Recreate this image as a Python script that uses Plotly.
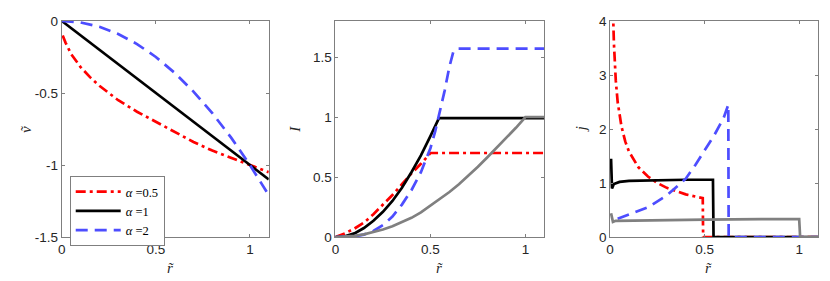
import plotly.graph_objects as go

# ---- panel 1: v~ vs r~
r_v_half = [0.005, 0.02, 0.05, 0.1, 0.15, 0.2, 0.25, 0.3, 0.4, 0.5, 0.6, 0.7, 0.8, 0.9, 1.0, 1.1]
v_half = [-0.1, -0.15, -0.23, -0.32, -0.39, -0.45, -0.5, -0.55, -0.63, -0.7, -0.77, -0.84, -0.9, -0.95, -1.0, -1.05]
r_v_one = [0, 0.55, 1.1]
v_one = [0, -0.55, -1.1]
r_v_two = [0, 0.1, 0.2, 0.3, 0.4, 0.5, 0.6, 0.7, 0.8, 0.9, 1.0, 1.1]
v_two = [0, -0.01, -0.04, -0.09, -0.16, -0.25, -0.36, -0.49, -0.64, -0.81, -1.0, -1.21]

# ---- panel 2: I vs r~
r_I_half = [0, 0.05, 0.1, 0.15, 0.2, 0.25, 0.3, 0.35, 0.4, 0.45, 0.5, 1.1]
I_half = [0, 0.03, 0.07, 0.12, 0.19, 0.27, 0.35, 0.44, 0.53, 0.61, 0.7, 0.7]
r_I_one = [0, 0.05, 0.1, 0.15, 0.2, 0.25, 0.3, 0.35, 0.4, 0.45, 0.5, 0.545, 1.1]
I_one = [0, 0.005, 0.03, 0.075, 0.135, 0.21, 0.3, 0.41, 0.54, 0.68, 0.84, 0.99, 0.99]
r_I_two = [0, 0.1, 0.15, 0.2, 0.25, 0.3, 0.35, 0.4, 0.45, 0.5, 0.525, 0.55, 0.575, 0.6, 0.62, 0.64, 1.1]
I_two = [0, 0.005, 0.02, 0.05, 0.1, 0.17, 0.27, 0.39, 0.54, 0.74, 0.88, 1.04, 1.22, 1.42, 1.54, 1.57, 1.57]
r_I_ref = [0, 0.05, 0.1, 0.15, 0.2, 0.25, 0.3, 0.35, 0.4, 0.45, 0.5, 0.55, 0.6, 0.65, 0.7,
           0.75, 0.8, 0.85, 0.9, 0.95, 1.0, 1.1]
I_ref = [0, 0.003, 0.01, 0.022, 0.04, 0.063, 0.09, 0.123, 0.16, 0.205, 0.26, 0.315, 0.375, 0.44, 0.51,
         0.585, 0.665, 0.745, 0.825, 0.91, 1.0, 1.0]

# ---- panel 3: j vs r~
r_j_half = [0.012, 0.02, 0.03, 0.04, 0.06, 0.08, 0.1, 0.15, 0.2, 0.25, 0.3, 0.35, 0.4, 0.45, 0.49, 0.492, 1.1]
j_half = [4.6, 3.6, 2.9, 2.5, 2.05, 1.77, 1.58, 1.29, 1.12, 1.0, 0.91, 0.85, 0.79, 0.75, 0.72, 0, 0]
r_j_one = [0.005, 0.01, 0.02, 0.05, 0.1, 0.2, 0.3, 0.4, 0.5, 0.544, 0.547, 1.1]
j_one = [1.45, 0.9, 0.98, 1.02, 1.04, 1.05, 1.055, 1.06, 1.06, 1.06, 0, 0]
r_j_two = [0.04, 0.1, 0.2, 0.3, 0.4, 0.45, 0.5, 0.55, 0.6, 0.625, 0.627, 1.1]
j_two = [0.34, 0.42, 0.55, 0.77, 1.08, 1.33, 1.6, 1.88, 2.2, 2.45, 0, 0]
r_j_ref = [0.005, 0.015, 0.03, 0.2, 0.5, 0.8, 1.0, 1.005, 1.1]
j_ref = [0.44, 0.28, 0.3, 0.31, 0.32, 0.33, 0.33, 0, 0]

names = ['<i>α</i> =0.5', '<i>α</i> =1', '<i>α</i> =2']

RED = '#ff0000'
BLUE = '#4d4dff'
GREY = '#808080'
LW = 2.7
red_line = dict(color=RED, width=LW, dash='10px,4px,3px,4px')
black_line = dict(color='black', width=LW)
blue_line = dict(color=BLUE, width=LW, dash='12px,7px')
grey_line = dict(color=GREY, width=LW)

fig = go.Figure()

# panel 1
fig.add_trace(go.Scatter(x=r_v_half, y=v_half, mode='lines', name=names[0], line=red_line, xaxis='x', yaxis='y'))
fig.add_trace(go.Scatter(x=r_v_one, y=v_one, mode='lines', name=names[1], line=black_line, xaxis='x', yaxis='y'))
fig.add_trace(go.Scatter(x=r_v_two, y=v_two, mode='lines', name=names[2], line=blue_line, xaxis='x', yaxis='y'))

# panel 2
fig.add_trace(go.Scatter(x=r_I_half, y=I_half, mode='lines', line=red_line, showlegend=False, xaxis='x2', yaxis='y2'))
fig.add_trace(go.Scatter(x=r_I_one, y=I_one, mode='lines', line=black_line, showlegend=False, xaxis='x2', yaxis='y2'))
fig.add_trace(go.Scatter(x=r_I_two, y=I_two, mode='lines', line=blue_line, showlegend=False, xaxis='x2', yaxis='y2'))
fig.add_trace(go.Scatter(x=r_I_ref, y=I_ref, mode='lines', line=grey_line, showlegend=False, xaxis='x2', yaxis='y2'))

# panel 3
fig.add_trace(go.Scatter(x=r_j_half, y=j_half, mode='lines', line=red_line, showlegend=False, xaxis='x3', yaxis='y3'))
fig.add_trace(go.Scatter(x=r_j_one, y=j_one, mode='lines', line=black_line, showlegend=False, xaxis='x3', yaxis='y3'))
fig.add_trace(go.Scatter(x=r_j_two, y=j_two, mode='lines', line=blue_line, showlegend=False, xaxis='x3', yaxis='y3'))
fig.add_trace(go.Scatter(x=r_j_ref, y=j_ref, mode='lines', line=grey_line, showlegend=False, xaxis='x3', yaxis='y3'))

# the page body has an 8px margin, so figure coords = screen coords - 8
W, H = 830, 281
OFF = 8
tick_font = dict(family='Liberation Sans, Arial, sans-serif', size=13.5, color='#262626')
ax_common = dict(showline=True, linecolor='#7f7f7f', linewidth=1, mirror='ticks',
                 ticks='inside', ticklen=3, tickcolor='#7f7f7f', showgrid=False,
                 zeroline=False, tickfont=tick_font)

x_px = [(58, 266), (333, 543), (609, 818)]
x_doms = [[(a - OFF) / W, (b - OFF) / W] for a, b in x_px]
top, bot = 21 - OFF, 237 - OFF
ph = bot - top

def xax(dom, anchor):
    return dict(ax_common, domain=dom, anchor=anchor, range=[0, 1.1],
                tickvals=[0, 0.5, 1], ticktext=['0', '0.5', '1'])

fig.update_layout(
    width=W, height=H,
    margin=dict(l=0, r=0, t=top, b=H - bot),
    plot_bgcolor='white', paper_bgcolor='white',
    xaxis=xax(x_doms[0], 'y'),
    xaxis2=xax(x_doms[1], 'y2'),
    xaxis3=xax(x_doms[2], 'y3'),
    yaxis=dict(ax_common, anchor='x', range=[-1.5, 0],
               tickvals=[0, -0.5, -1, -1.5], ticktext=['0', '-0.5', '-1', '-1.5']),
    yaxis2=dict(ax_common, anchor='x2', range=[0, 1.8],
                tickvals=[0, 0.5, 1, 1.5], ticktext=['0', '0.5', '1', '1.5']),
    yaxis3=dict(ax_common, anchor='x3', range=[0, 4],
                tickvals=[0, 1, 2, 3, 4], ticktext=['0', '1', '2', '3', '4']),
    legend=dict(x=(66 - OFF) / W, y=(237 - 176) / ph, xanchor='left', yanchor='top',
                bgcolor='white', bordercolor='#7f7f7f', borderwidth=1,
                font=dict(family='Liberation Serif, Times New Roman, serif', size=12.5, color='black'),
                itemwidth=45, tracegroupgap=0),
    showlegend=True,
)

title_font = dict(family='Liberation Serif, Times New Roman, serif', size=15, color='#262626')
annots = []
for dom in x_doms:
    annots.append(dict(text='<i>r̃</i>', x=(dom[0] + dom[1]) / 2, y=(237 - 268) / ph, xref='paper', yref='paper',
                       showarrow=False, font=title_font, yanchor='middle'))
for txt, xp in [('<i>ṽ</i>', 12), ('<i>I</i>', 292), ('<i>j</i>', 590)]:
    annots.append(dict(text=txt, x=(xp - OFF) / W, y=0.5, xref='paper', yref='paper', textangle=-90,
                       showarrow=False, font=title_font))
fig.update_layout(annotations=annots)

fig.write_html("out.html")
